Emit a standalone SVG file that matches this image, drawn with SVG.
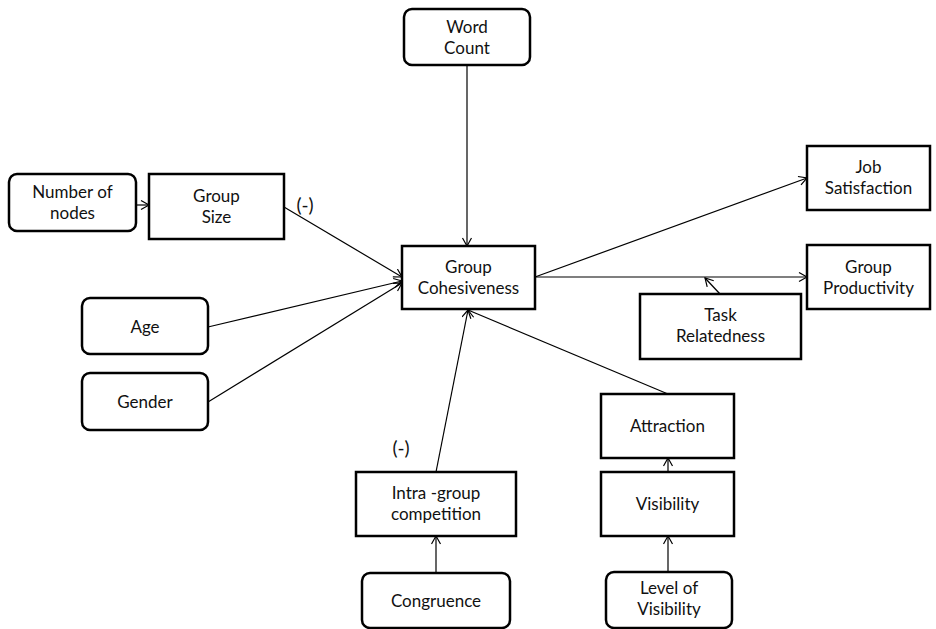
<svg xmlns="http://www.w3.org/2000/svg" width="936" height="629" viewBox="0 0 936 629">
<defs>
<marker id="arr" markerUnits="userSpaceOnUse" markerWidth="12" markerHeight="12" refX="9" refY="5" orient="auto">
<path d="M1,0.5 L9,5 L1,9.5" fill="none" stroke="#000" stroke-width="1.2"/>
</marker>
</defs>
<style>
.box{fill:#fff;stroke:#000;stroke-width:2.5}
.t{font-family:Lato,"Open Sans","Noto Sans",sans-serif;font-size:17px;fill:#111;text-anchor:middle}
.lbl{font-size:19px}
.c{fill:none;stroke:#000;stroke-width:1.2;marker-end:url(#arr)}
</style>
<rect width="936" height="629" fill="#fff"/>
<g id="connectors">
<line class="c" x1="136" y1="205" x2="149" y2="205"/>
<line class="c" x1="284" y1="207" x2="402" y2="277"/>
<line class="c" x1="208" y1="327" x2="402" y2="281"/>
<line class="c" x1="208" y1="402" x2="402" y2="283"/>
<line class="c" x1="467" y1="65" x2="467" y2="246"/>
<line class="c" x1="535" y1="277" x2="807" y2="178"/>
<line class="c" x1="535" y1="277" x2="807" y2="277"/>
<line class="c" x1="720" y1="294" x2="705" y2="278"/>
<line class="c" x1="668" y1="394" x2="468" y2="310"/>
<line class="c" x1="436" y1="472" x2="468" y2="310"/>
<line class="c" x1="436" y1="573" x2="436" y2="536"/>
<line class="c" x1="668" y1="472" x2="668" y2="458"/>
<line class="c" x1="668" y1="572" x2="668" y2="536"/>
<text class="t lbl" x="305" y="211.5">(-)</text>
<text class="t lbl" x="401" y="454.5">(-)</text>
</g>
<g id="wordcount">
<rect class="box" x="404" y="9" width="126" height="56" rx="8"/>
<text class="t" x="467" y="33">Word<tspan x="467" dy="20.5">Count</tspan></text>
</g>
<g id="numnodes">
<rect class="box" x="9" y="174" width="127" height="57" rx="8"/>
<text class="t" x="72.5" y="198">Number of<tspan x="72.5" dy="20.5">nodes</tspan></text>
</g>
<g id="groupsize">
<rect class="box" x="149" y="174" width="135" height="65"/>
<text class="t" x="216.5" y="202">Group<tspan x="216.5" dy="20.5">Size</tspan></text>
</g>
<g id="cohesiveness">
<rect class="box" x="402" y="246" width="133" height="63"/>
<text class="t" x="468.5" y="273">Group<tspan x="468.5" dy="20.5">Cohesiveness</tspan></text>
</g>
<g id="age">
<rect class="box" x="82" y="298" width="126" height="56" rx="8"/>
<text class="t" x="145" y="333">Age</text>
</g>
<g id="gender">
<rect class="box" x="82" y="373" width="126" height="57" rx="8"/>
<text class="t" x="145" y="407.5">Gender</text>
</g>
<g id="jobsatisfaction">
<rect class="box" x="807" y="146" width="123" height="64"/>
<text class="t" x="868.5" y="173">Job<tspan x="868.5" dy="21">Satisfaction</tspan></text>
</g>
<g id="groupproductivity">
<rect class="box" x="807" y="245" width="123" height="64"/>
<text class="t" x="868.5" y="273">Group<tspan x="868.5" dy="20.5">Productivity</tspan></text>
</g>
<g id="taskrelatedness">
<rect class="box" x="640" y="294" width="161" height="65"/>
<text class="t" x="720.5" y="321">Task<tspan x="720.5" dy="21">Relatedness</tspan></text>
</g>
<g id="attraction">
<rect class="box" x="601" y="394" width="133" height="64"/>
<text class="t" x="667.5" y="432">Attraction</text>
</g>
<g id="visibility">
<rect class="box" x="601" y="472" width="133" height="64"/>
<text class="t" x="667.5" y="510">Visibility</text>
</g>
<g id="levelofvisibility">
<rect class="box" x="606" y="572" width="126" height="56" rx="8"/>
<text class="t" x="669" y="594">Level of<tspan x="669" dy="21">Visibility</tspan></text>
</g>
<g id="intragroup">
<rect class="box" x="356" y="472" width="160" height="64"/>
<text class="t" x="436" y="499">Intra -group<tspan x="436" dy="20.5">competition</tspan></text>
</g>
<g id="congruence">
<rect class="box" x="362" y="573" width="148" height="55" rx="8"/>
<text class="t" x="436" y="606.5">Congruence</text>
</g>
</svg>
